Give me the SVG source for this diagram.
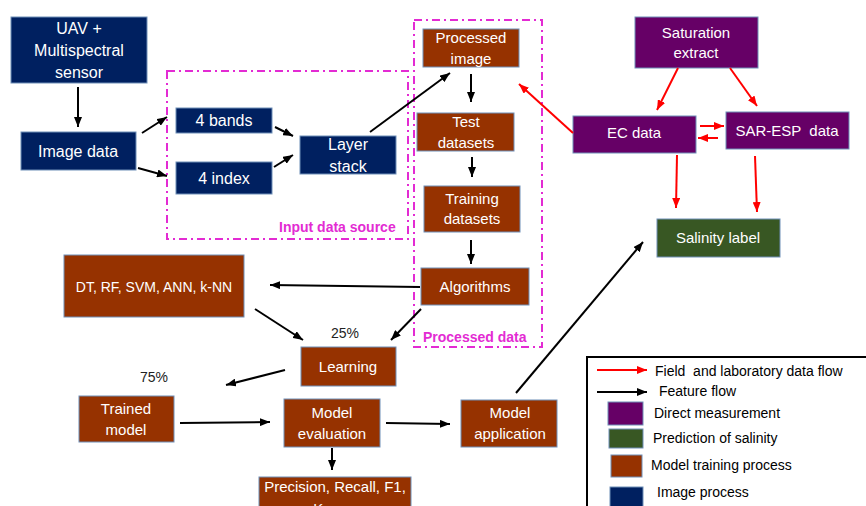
<svg xmlns="http://www.w3.org/2000/svg" width="866" height="506" viewBox="0 0 866 506">
<style>
.n{stroke:#6f8fb8;stroke-width:1}
.navy{fill:#002060}.brown{fill:#963200}.purple{fill:#660066}.green{fill:#385723}
.t{font-family:"Liberation Sans",Arial,sans-serif;fill:#fff;text-anchor:middle}
.s16{font-size:16px}.s15{font-size:15px}.s14{font-size:14px}
.dash{fill:none;stroke:#e32bd3;stroke-width:2;stroke-dasharray:8 4 2 4}
.lab{font-family:"Liberation Sans",Arial,sans-serif;font-size:14px;font-weight:bold;fill:#e32bd3}
.blk{stroke:#000;stroke-width:2;fill:none;marker-end:url(#ab)}
.red{stroke:#ff0000;stroke-width:2;fill:none;marker-end:url(#ar)}
.pct{font-family:"Liberation Sans",Arial,sans-serif;font-size:14px;fill:#222;text-anchor:middle}
.lg{font-family:"Liberation Sans",Arial,sans-serif;font-size:14px;fill:#000}
</style>
<defs>
<marker id="ab" viewBox="0 0 10 8" refX="10" refY="4" markerWidth="10" markerHeight="8" markerUnits="userSpaceOnUse" orient="auto"><path d="M0,0 L10,4 L0,8 z" fill="#000"/></marker>
<marker id="ar" viewBox="0 0 10 8" refX="10" refY="4" markerWidth="10" markerHeight="8" markerUnits="userSpaceOnUse" orient="auto"><path d="M0,0 L10,4 L0,8 z" fill="#ff0000"/></marker>
</defs>
<rect width="866" height="506" fill="#fff"/>

<g id="input-data-source">
<rect class="dash" x="167" y="71" width="241" height="168"/>
<text class="lab" x="279" y="232">Input data source</text>
</g>
<g id="processed-data">
<rect class="dash" x="414" y="20" width="128" height="327"/>
<text class="lab" x="423" y="342">Processed data</text>
</g>

<g id="uav"><rect class="n navy" x="11" y="17" width="136" height="66"/>
<text class="t s16" x="79" y="34">UAV +</text><text class="t s16" x="79" y="56">Multispectral</text><text class="t s16" x="79" y="78">sensor</text></g>
<g id="image-data"><rect class="n navy" x="21" y="132" width="115" height="38"/><text class="t s16" x="78" y="157">Image data</text></g>
<g id="bands"><rect class="n navy" x="176" y="108" width="96" height="25"/><text class="t s16" x="224" y="126">4 bands</text></g>
<g id="index"><rect class="n navy" x="176" y="162" width="96" height="32"/><text class="t s16" x="224" y="184">4 index</text></g>
<g id="layer-stack"><rect class="n navy" x="300" y="136" width="96" height="38"/><text class="t s16" x="348" y="150">Layer</text><text class="t s16" x="348" y="172">stack</text></g>

<g id="processed-image"><rect class="n brown" x="423" y="29" width="96" height="38"/><text class="t s15" x="471" y="43">Processed</text><text class="t s15" x="471" y="64">image</text></g>
<g id="test"><rect class="n brown" x="417" y="113" width="97" height="38"/><text class="t s15" x="466" y="127">Test</text><text class="t s15" x="466" y="148">datasets</text></g>
<g id="training"><rect class="n brown" x="424" y="186" width="96" height="46"/><text class="t s15" x="472" y="204">Training</text><text class="t s15" x="472" y="224">datasets</text></g>
<g id="algorithms"><rect class="n brown" x="421" y="268" width="108" height="37"/><text class="t s15" x="475" y="292">Algorithms</text></g>
<g id="dt"><rect class="n brown" x="64" y="255" width="180" height="62"/><text class="t s14" x="154" y="292">DT, RF, SVM, ANN, k-NN</text></g>
<g id="learning"><rect class="n brown" x="301" y="347" width="95" height="39"/><text class="t s15" x="348" y="372">Learning</text></g>
<g id="trained"><rect class="n brown" x="79" y="396" width="95" height="46"/><text class="t s15" x="126" y="414">Trained</text><text class="t s15" x="126" y="435">model</text></g>
<g id="evaluation"><rect class="n brown" x="284" y="399" width="96" height="48"/><text class="t s15" x="332" y="418">Model</text><text class="t s15" x="332" y="439">evaluation</text></g>
<g id="application"><rect class="n brown" x="461" y="400" width="96" height="47"/><text class="t s15" x="510" y="418">Model</text><text class="t s15" x="510" y="439">application</text></g>
<g id="precision"><rect class="n brown" x="259" y="477" width="152" height="40"/><text class="t s15" x="335" y="492">Precision, Recall, F1,</text><text class="t s15" x="335" y="514">Kappa</text></g>

<g id="saturation"><rect class="n purple" x="635" y="17" width="123" height="51"/><text class="t s15" x="696" y="38">Saturation</text><text class="t s15" x="696" y="58">extract</text></g>
<g id="ec"><rect class="n purple" x="573" y="116" width="123" height="37"/><text class="t s15" x="634" y="138">EC data</text></g>
<g id="sar"><rect class="n purple" x="726" y="112" width="123" height="37"/><text class="t s15" x="787" y="136" xml:space="preserve">SAR-ESP  data</text></g>
<g id="salinity"><rect class="n green" x="657" y="219" width="123" height="38"/><text class="t s15" x="718" y="243">Salinity label</text></g>

<text class="pct" x="345" y="338">25%</text>
<text class="pct" x="154" y="382">75%</text>

<g id="connectors">
<line class="blk" x1="78" y1="87" x2="78" y2="127"/>
<line class="blk" x1="142" y1="133" x2="167" y2="117"/>
<line class="blk" x1="138" y1="168" x2="167" y2="176"/>
<line class="blk" x1="275" y1="127" x2="293" y2="136"/>
<line class="blk" x1="274" y1="167" x2="293" y2="155"/>
<line class="blk" x1="370" y1="132" x2="450" y2="73"/>
<line class="blk" x1="471" y1="74" x2="471" y2="102"/>
<line class="blk" x1="472" y1="157" x2="472" y2="177"/>
<line class="blk" x1="471" y1="240" x2="471" y2="264"/>
<line class="blk" x1="420" y1="287" x2="270" y2="285"/>
<line class="blk" x1="255" y1="309" x2="303" y2="340"/>
<line class="blk" x1="421" y1="309" x2="391" y2="340"/>
<line class="blk" x1="285" y1="370" x2="226" y2="385"/>
<line class="blk" x1="180" y1="423" x2="270" y2="422"/>
<line class="blk" x1="386" y1="423" x2="450" y2="424"/>
<line class="blk" x1="332" y1="448" x2="332" y2="470"/>
<line class="blk" x1="516" y1="393" x2="643" y2="242"/>
<line class="red" x1="573" y1="133" x2="519" y2="84"/>
<line class="red" x1="678" y1="68" x2="657" y2="110"/>
<line class="red" x1="730" y1="68" x2="757" y2="106"/>
<line class="red" x1="700" y1="126" x2="724" y2="126"/>
<line class="red" x1="718" y1="138" x2="698" y2="138"/>
<line class="red" x1="677" y1="155" x2="676" y2="208"/>
<line class="red" x1="755" y1="156" x2="757" y2="212"/>
</g>

<g id="legend">
<rect x="587" y="357" width="290" height="160" fill="#fff" stroke="#000" stroke-width="2"/>
<line class="red" x1="597" y1="370" x2="647" y2="370"/>
<text class="lg" x="655" y="376" xml:space="preserve">Field  and laboratory data flow</text>
<line class="blk" x1="597" y1="392" x2="647" y2="392"/>
<text class="lg" x="659" y="396">Feature flow</text>
<rect class="n purple" x="608" y="402" width="35" height="23"/>
<text class="lg" x="654" y="418">Direct measurement</text>
<rect class="n green" x="609" y="429" width="34" height="19"/>
<text class="lg" x="653" y="443">Prediction of salinity</text>
<rect class="n brown" x="611" y="455" width="31" height="22"/>
<text class="lg" x="651" y="470">Model training process</text>
<rect class="n navy" x="610" y="487" width="33" height="25"/>
<text class="lg" x="657" y="497">Image process</text>
</g>
</svg>
